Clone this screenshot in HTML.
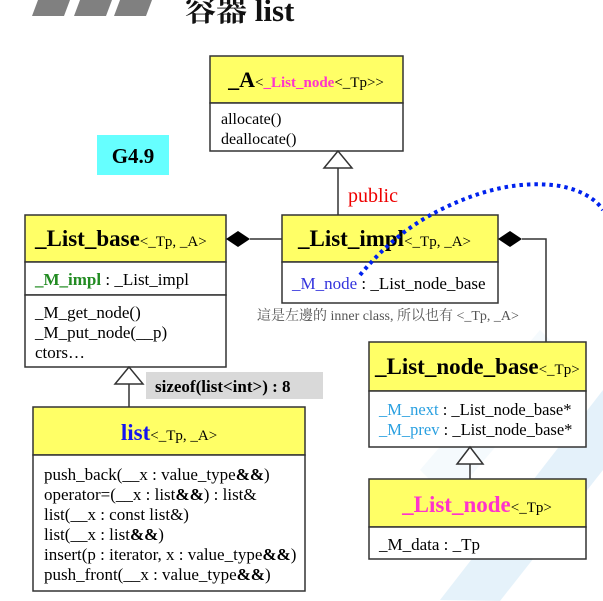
<!DOCTYPE html>
<html><head><meta charset="utf-8"><style>
html,body{margin:0;padding:0;background:#fff;width:603px;height:601px;overflow:hidden}
svg{display:block}
text{font-family:"Liberation Serif","Noto Serif CJK SC",serif}
</style></head><body>
<svg width="603" height="601" viewBox="0 0 603 601" xmlns="http://www.w3.org/2000/svg">
<!-- watermark -->
<g opacity="0.18">
<polygon points="440,600 603,390 603,470 500,601" fill="#6fb6e6"/>
<polygon points="420,470 540,330 570,360 450,500" fill="#c9e6f6"/>
</g>
<!-- title bars -->
<polygon points="38,0 70,0 64,16 32,16" fill="#808080"/>
<polygon points="80,0 112,0 106,16 74,16" fill="#808080"/>
<polygon points="120,0 152,0 146,16 114,16" fill="#808080"/>
<text x="185" y="21" font-size="31" font-weight="bold" fill="#111">容器 list</text>

<!-- G4.9 -->
<rect x="97" y="135" width="72" height="40" fill="#66ffff"/>
<text x="133" y="163" font-size="21" font-weight="bold" text-anchor="middle">G4.9</text>

<!-- _A box -->
<rect x="210" y="56" width="193" height="47" fill="#ffff66" stroke="#333" stroke-width="1.5"/>
<rect x="210" y="103" width="193" height="48" fill="#fff" stroke="#333" stroke-width="1.5"/>
<text x="306" y="87" font-size="15" text-anchor="middle"><tspan font-size="22" font-weight="bold">_A</tspan>&lt;<tspan fill="#ff33cc" font-weight="bold">_List_node</tspan>&lt;_Tp&gt;&gt;</text>
<text x="221" y="124" font-size="16">allocate()</text>
<text x="221" y="144" font-size="16">deallocate()</text>

<!-- inheritance A -->
<line x1="338" y1="168" x2="338" y2="215" stroke="#333" stroke-width="1.5"/>
<polygon points="338,151 324,168 352,168" fill="#fff" stroke="#333" stroke-width="1.5"/>
<text x="348" y="202" font-size="20" fill="#e00">public</text>

<!-- _List_base -->
<rect x="25" y="215" width="201" height="47" fill="#ffff66" stroke="#333" stroke-width="1.5"/>
<rect x="25" y="262" width="201" height="33" fill="#fff" stroke="#333" stroke-width="1.5"/>
<rect x="25" y="295" width="201" height="72" fill="#fff" stroke="#333" stroke-width="1.5"/>
<text x="35" y="246" font-size="15"><tspan font-size="23" font-weight="bold">_List_base</tspan>&lt;_Tp, _A&gt;</text>
<text x="35" y="285" font-size="17"><tspan fill="#228b22" font-weight="bold">_M_impl</tspan> : _List_impl</text>
<text x="35" y="318" font-size="17">_M_get_node()</text>
<text x="35" y="338" font-size="17">_M_put_node(__p)</text>
<text x="35" y="358" font-size="17">ctors…</text>

<!-- diamond base-impl -->
<line x1="250" y1="239" x2="282" y2="239" stroke="#333" stroke-width="1.5"/>
<polygon points="226,239 238,231 250,239 238,247" fill="#000"/>

<!-- _List_impl -->
<rect x="282" y="215" width="216" height="47" fill="#ffff66" stroke="#333" stroke-width="1.5"/>
<rect x="282" y="262" width="216" height="41" fill="#fff" stroke="#333" stroke-width="1.5"/>
<text x="298" y="246" font-size="15"><tspan font-size="23" font-weight="bold">_List_impl</tspan>&lt;_Tp, _A&gt;</text>
<text x="292" y="289" font-size="17"><tspan fill="#3333dd">_M_node</tspan> : _List_node_base</text>
<text x="257" y="320" font-size="14" fill="#555">這是左邊的 inner class, 所以也有 &lt;_Tp, _A&gt;</text>

<!-- diamond impl-node_base -->
<polyline points="522,239 546,239 546,342" fill="none" stroke="#333" stroke-width="1.5"/>
<polygon points="498,239 510,231 522,239 510,247" fill="#000"/>

<!-- blue dotted -->
<path d="M360,275 C385,245 410,225 440,210 C480,190 520,180 560,186 C580,190 595,198 603,210" fill="none" stroke="#0022ee" stroke-width="4" stroke-dasharray="3.5,4"/>

<!-- list_base -> list -->
<line x1="129" y1="384" x2="129" y2="407" stroke="#333" stroke-width="1.5"/>
<polygon points="129,367 115,384 143,384" fill="#fff" stroke="#333" stroke-width="1.5"/>
<rect x="146" y="372" width="177" height="27" fill="#d9d9d9"/>
<text x="155" y="392" font-size="17" font-weight="bold">sizeof(list&lt;int&gt;) : 8</text>

<!-- list -->
<rect x="33" y="407" width="272" height="48" fill="#ffff66" stroke="#333" stroke-width="1.5"/>
<rect x="33" y="455" width="272" height="136" fill="#fff" stroke="#333" stroke-width="1.5"/>
<text x="169" y="440" font-size="15" text-anchor="middle"><tspan font-size="23" font-weight="bold" fill="#1515ee">list</tspan>&lt;_Tp, _A&gt;</text>
<g font-size="17">
<text x="44" y="480">push_back(__x : value_type<tspan font-weight="bold">&amp;&amp;</tspan>)</text>
<text x="44" y="500">operator=(__x : list<tspan font-weight="bold">&amp;&amp;</tspan>) : list&amp;</text>
<text x="44" y="520">list(__x : const list&amp;)</text>
<text x="44" y="540">list(__x : list<tspan font-weight="bold">&amp;&amp;</tspan>)</text>
<text x="44" y="560">insert(p : iterator, x : value_type<tspan font-weight="bold">&amp;&amp;</tspan>)</text>
<text x="44" y="580">push_front(__x : value_type<tspan font-weight="bold">&amp;&amp;</tspan>)</text>
</g>

<!-- _List_node_base -->
<rect x="369" y="342" width="217" height="49" fill="#ffff66" stroke="#333" stroke-width="1.5"/>
<rect x="369" y="391" width="217" height="56" fill="#fff" stroke="#333" stroke-width="1.5"/>
<text x="375" y="374" font-size="15"><tspan font-size="23" font-weight="bold">_List_node_base</tspan>&lt;_Tp&gt;</text>
<text x="379" y="415" font-size="16.5"><tspan fill="#2aa0e0">_M_next</tspan> : _List_node_base*</text>
<text x="379" y="435" font-size="16.5"><tspan fill="#2aa0e0">_M_prev</tspan> : _List_node_base*</text>

<line x1="470" y1="464" x2="470" y2="479" stroke="#333" stroke-width="1.5"/>
<polygon points="470,447 457,464 483,464" fill="#fff" stroke="#333" stroke-width="1.5"/>

<!-- _List_node -->
<rect x="369" y="479" width="217" height="48" fill="#ffff66" stroke="#333" stroke-width="1.5"/>
<rect x="369" y="527" width="217" height="32" fill="#fff" stroke="#333" stroke-width="1.5"/>
<text x="477" y="512" font-size="15" text-anchor="middle"><tspan font-size="23" font-weight="bold" fill="#ff33cc">_List_node</tspan>&lt;_Tp&gt;</text>
<text x="379" y="550" font-size="17">_M_data : _Tp</text>
</svg>
</body></html>
